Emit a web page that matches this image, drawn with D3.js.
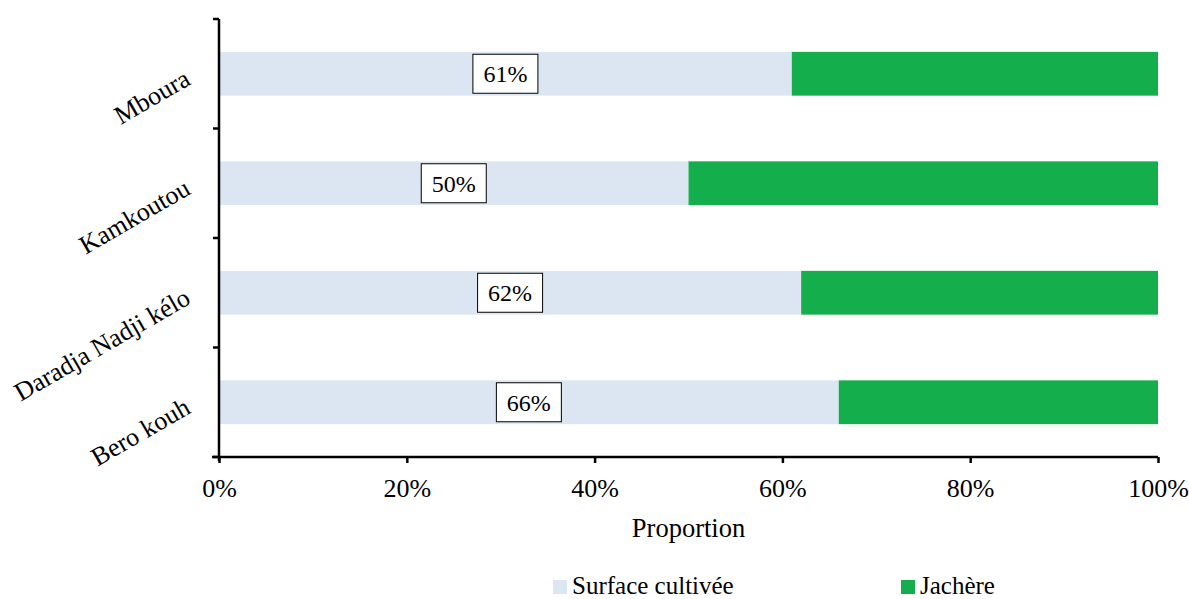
<!DOCTYPE html>
<html lang="fr">
<head>
<meta charset="UTF-8">
<title>Proportion surface cultivée / jachère</title>
<script src="https://d3js.org/d3.v7.min.js"></script>
<style>
  body { margin: 0; background: #fff; }
  .axis path, .axis line { stroke: #000; stroke-width: 2.5; }
</style>
</head>
<body>
<svg width="1189" height="599"></svg>
<script>
const villages = ["Mboura", "Kamkoutou", "Daradja Nadji kélo", "Bero kouh"];
const cultivee = [61, 50, 62, 66];
const jachere = [39, 50, 38, 34];
const seriesNames = ["Surface cultivée", "Jachère"];
const colors = ["#DBE6F2", "#14AE4C"];
const xTicks = [0, 20, 40, 60, 80, 100];

const FONT = "'Liberation Serif'";
const svg = d3.select("svg");
const margin = { left: 219, right: 31, top: 19, bottom: 142 };
const width = 1189 - margin.left - margin.right;
const height = 599 - margin.top - margin.bottom;
const g = svg.append("g").attr("transform", `translate(${margin.left},${margin.top})`);

const x = d3.scaleLinear().domain([0, 100]).range([0, width]);
const y = d3.scaleBand().domain(villages).range([0, height]).paddingInner(0.6).paddingOuter(0.3);
const yBand = d3.scaleBand().domain(villages).range([0, height]);

const rows = villages.map((v, i) => ({ v, a: cultivee[i], b: jachere[i] }));

// bars
g.selectAll(".bar-a").data(rows).enter().append("rect")
  .attr("x", x(0)).attr("y", d => y(d.v))
  .attr("width", d => x(d.a) - x(0)).attr("height", y.bandwidth())
  .attr("fill", colors[0]);
g.selectAll(".bar-b").data(rows).enter().append("rect")
  .attr("x", d => x(d.a)).attr("y", d => y(d.v))
  .attr("width", d => x(d.a + d.b) - x(d.a)).attr("height", y.bandwidth())
  .attr("fill", colors[1]);

// value labels in boxes
const lab = g.selectAll(".lab").data(rows).enter().append("g")
  .attr("transform", d => `translate(${x(d.a / 2)},${y(d.v) + y.bandwidth() / 2})`);
lab.append("rect").attr("x", -32.5).attr("y", -19.5).attr("width", 65).attr("height", 39)
  .attr("fill", "#fff").attr("stroke", "#000").attr("stroke-width", 1);
lab.append("text").attr("text-anchor", "middle").attr("y", 8.5)
  .style("font-family", FONT).style("font-size", "24px").text(d => d.a + "%");

// y axis with ticks at band boundaries
const yAxis = g.append("g").attr("class", "axis");
yAxis.append("line").attr("x1", 0).attr("x2", 0).attr("y1", 0).attr("y2", height + 4);
const bounds = villages.map(v => yBand(v)).concat([height]);
yAxis.selectAll(".yt").data(bounds).enter().append("line")
  .attr("x1", -6).attr("x2", 0).attr("y1", d => d).attr("y2", d => d);

g.selectAll(".ylab").data(villages).enter().append("text")
  .attr("text-anchor", "end")
  .attr("transform", d => `translate(-27,${yBand(d) + yBand.bandwidth() / 2 + 10}) rotate(-30)`)
  .style("font-family", FONT).style("font-size", "26px").text(d => d);

// x axis
const xAxis = g.append("g").attr("class", "axis").attr("transform", `translate(0,${height})`)
  .call(d3.axisBottom(x).tickValues(xTicks).tickSize(6).tickSizeOuter(0).tickFormat(d => d + "%"));
xAxis.selectAll("text").style("font-family", FONT).style("font-size", "26px")
  .attr("fill", "#000").attr("dy", null).attr("y", 40);
xAxis.select(".domain").attr("d", `M-7,0H${width}`);

g.append("text").attr("x", width / 2).attr("y", height + 80)
  .attr("text-anchor", "middle").style("font-family", FONT).style("font-size", "26.5px").text("Proportion");

// legend
const legX = [553, 901];
const leg = svg.selectAll(".leg").data(seriesNames).enter().append("g")
  .attr("transform", (d, i) => `translate(${legX[i]},580)`);
leg.append("rect").attr("width", 14).attr("height", 14).attr("fill", (d, i) => colors[i]);
leg.append("text").attr("x", 19).attr("y", 14)
  .style("font-family", FONT).style("font-size", "25px").text(d => d);
</script>
</body>
</html>
